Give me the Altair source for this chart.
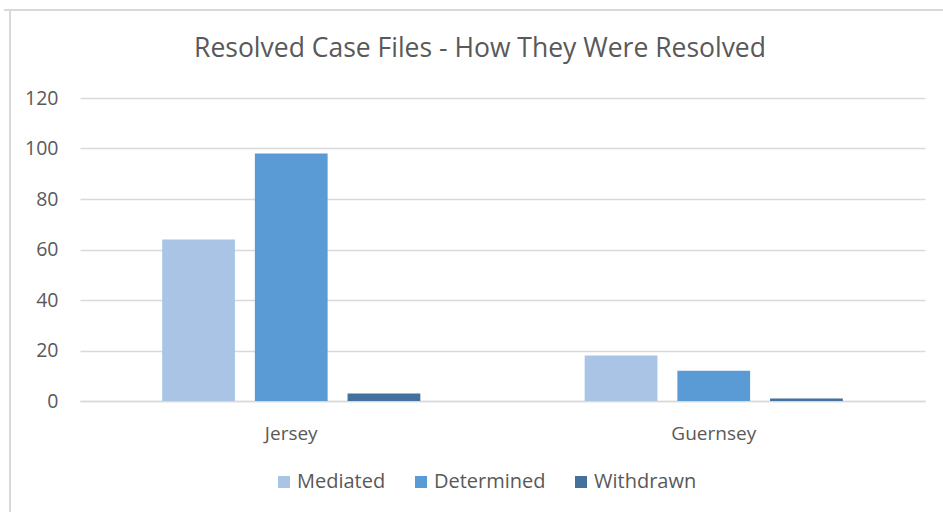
import altair as alt
import pandas as pd

regions = ["Jersey", "Guernsey"]
series = ["Mediated", "Determined", "Withdrawn"]
mediated = [64, 18]
determined = [98, 12]
withdrawn = [3, 1]
colors = ["#A9C4E5", "#5B9BD5", "#41719C"]
y_ticks = [0, 20, 40, 60, 80, 100, 120]
title_text = "Resolved Case Files - How They Were Resolved"

rows = []
for i, r in enumerate(regions):
    for s, vals in zip(series, [mediated, determined, withdrawn]):
        rows.append({"Region": r, "Type": s, "Value": vals[i]})
df = pd.DataFrame(rows)

FONT = "Open Sans"

bars = alt.Chart(df).mark_bar().encode(
    x=alt.X("Region:N", sort=regions, title=None,
            scale=alt.Scale(paddingInner=0.389, paddingOuter=0.1945),
            axis=alt.Axis(labelAngle=0, labelFont=FONT, labelFontSize=19,
                          labelColor="#595959", domainColor="#D9D9D9",
                          domainWidth=1.5, ticks=False, labelPadding=23)),
    xOffset=alt.XOffset("Type:N", sort=series,
                        scale=alt.Scale(paddingInner=0.215, paddingOuter=0)),
    y=alt.Y("Value:Q", title=None,
            scale=alt.Scale(domain=[0, 120], nice=False),
            axis=alt.Axis(values=y_ticks, labelFont=FONT, labelFontSize=19.5,
                          labelColor="#595959", domain=False, ticks=False,
                          gridColor="#D9D9D9", gridWidth=1.5, labelPadding=22)),
    color=alt.Color("Type:N", sort=series,
                    scale=alt.Scale(domain=series, range=colors),
                    legend=alt.Legend(orient="none", legendX=194, legendY=374,
                                      direction="horizontal",
                                      title=None, symbolType="square",
                                      symbolSize=144, symbolStrokeWidth=0,
                                      labelFont=FONT, labelFontSize=20,
                                      labelColor="#595959", columnPadding=25,
                                      labelOffset=3)),
)

title = alt.Chart(pd.DataFrame({"t": [title_text]})).mark_text(
    font=FONT, fontSize=26.5, color="#595959", align="center", baseline="middle"
).encode(text="t:N", x=alt.value(400), y=alt.value(-49))

frame_top = alt.Chart(pd.DataFrame({"a": [0]})).mark_rule(
    color="#D9D9D9", strokeWidth=2
).encode(x=alt.value(-76), x2=alt.value(870), y=alt.value(-88))
frame_left = alt.Chart(pd.DataFrame({"a": [0]})).mark_rule(
    color="#D9D9D9", strokeWidth=2
).encode(x=alt.value(-70), y=alt.value(-88), y2=alt.value(420))

chart = alt.layer(frame_top, frame_left, title, bars).properties(
    width=845, height=303,
    autosize=alt.AutoSizeParams(type="none"),
    padding={"left": 80, "top": 98, "right": 18, "bottom": 111},
    background="white",
).configure_view(stroke=None)

chart.save("out.html", embed_options={"renderer": "svg", "actions": False})
